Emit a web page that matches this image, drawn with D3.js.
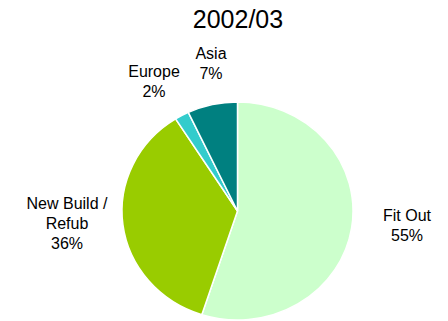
<!DOCTYPE html>
<html>
<head>
<meta charset="utf-8">
<script src="https://cdn.jsdelivr.net/npm/d3@7"></script>
<style>
  html, body { margin: 0; padding: 0; background: #fff; }
  svg { display: block; font-family: Arial, "Liberation Sans", sans-serif; }
</style>
</head>
<body>
<svg id="chart" width="448" height="321"></svg>
<script>
// Sector split for 2002/03
const title = "2002/03";
const categories = ["Fit Out", "New Build / Refub", "Europe", "Asia"];
const labelLines = [["Fit Out"], ["New Build /", "Refub"], ["Europe"], ["Asia"]];
const values = [55, 36, 2, 7];
const colors = ["#ccffcc", "#99cc00", "#33cccc", "#008080"];

// Label anchors (centre x, first baseline) for each category
const labelAnchors = [[407, 221], [67, 209], [154, 77], [211, 59]];

const svg = d3.select("#chart");
const W = 448, H = 321;
const cx = 237.5, cy = 211, rx = 115.5, ry = 109;

svg.append("text")
  .attr("x", 238).attr("y", 28)
  .attr("text-anchor", "middle")
  .attr("font-size", 25)
  .attr("fill", "#000")
  .text(title);

const data = categories.map((c, i) => ({ name: c, value: values[i], color: colors[i], lines: labelLines[i], anchor: labelAnchors[i] }));

const pie = d3.pie().value(d => d.value).sort(null);
const arc = d3.arc().innerRadius(0).outerRadius(rx);

const g = svg.append("g")
  .attr("transform", `translate(${cx},${cy}) scale(1,${ry / rx})`);

g.selectAll("path")
  .data(pie(data))
  .join("path")
  .attr("d", arc)
  .attr("fill", d => d.data.color)
  .attr("stroke", "#fff")
  .attr("stroke-width", 1.5)
  .attr("stroke-linejoin", "round");

const total = d3.sum(values);
const fmt = d3.format(".0%");
const lh = 19.8;

const lab = svg.append("g").attr("font-size", 16).attr("fill", "#000").attr("text-anchor", "middle");
data.forEach(d => {
  const t = lab.append("text").attr("x", d.anchor[0]).attr("y", d.anchor[1]);
  const lines = d.lines.concat([fmt(d.value / total)]);
  lines.forEach((ln, j) => {
    t.append("tspan").attr("x", d.anchor[0]).attr("dy", j === 0 ? 0 : lh).text(ln);
  });
});
</script>
</body>
</html>
